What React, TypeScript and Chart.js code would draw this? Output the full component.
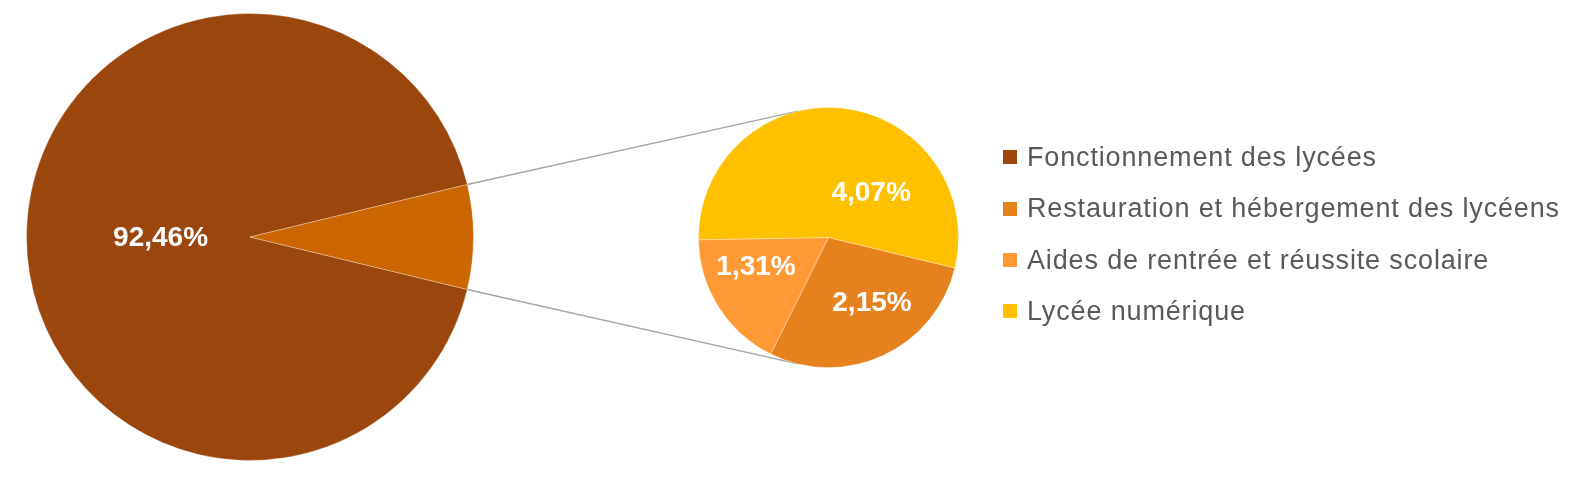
import React, { useEffect, useRef } from "react";
import { Chart, registerables } from "chart.js";

Chart.register(...registerables);

// ---- data ----
const mainLabels = ["Fonctionnement des lycées", "Autres dépenses"];
const mainValues = [92.46, 7.54];
const mainColors = ["#9B460D", "#CC6600"];

const detailLabels = [
  "Restauration et hébergement des lycéens",
  "Aides de rentrée et réussite scolaire",
  "Lycée numérique",
];
const detailValues = [2.15, 1.31, 4.07];
const detailColors = ["#E6821E", "#FF9933", "#FFC000"];

const legendLabels = [mainLabels[0], ...detailLabels];
const legendColors = [mainColors[0], ...detailColors];

// label placement inside slices: [fraction along the arc, fraction of radius]
const mainLabelPlace: (number[] | null)[] = [[0.5, 0.4], null];
const detailLabelPlace: (number[] | null)[] = [
  [0.414, 0.6],
  [0.67, 0.6],
  [0.689, 0.48],
];

const W = 1571;
const H = 487;

const fmt = (v: number) => v.toFixed(2).replace(".", ",") + "%";

const makeLabelPlugin = (places: (number[] | null)[]) => ({
  id: "sliceLabels",
  afterDatasetsDraw(chart: any) {
    const ctx = chart.ctx;
    const meta = chart.getDatasetMeta(0);
    const vals = chart.data.datasets[0].data as number[];
    ctx.save();
    ctx.font = 'bold 28px "Liberation Sans", Arial, sans-serif';
    ctx.fillStyle = "#ffffff";
    ctx.textAlign = "center";
    ctx.textBaseline = "middle";
    meta.data.forEach((arc: any, i: number) => {
      const p = places[i];
      if (!p) return;
      const { x, y, startAngle, endAngle, outerRadius } = arc.getProps(
        ["x", "y", "startAngle", "endAngle", "outerRadius"],
        true
      );
      const a = startAngle + p[0] * (endAngle - startAngle);
      const r = outerRadius * p[1];
      ctx.fillText(fmt(vals[i]), x + r * Math.cos(a), y + r * Math.sin(a) + 1);
    });
    ctx.restore();
  },
});

export default function App() {
  const mainRef = useRef<HTMLCanvasElement | null>(null);
  const detailRef = useRef<HTMLCanvasElement | null>(null);

  useEffect(() => {
    const total = mainValues.reduce((a, b) => a + b, 0);
    const half = (mainValues[1] / total) * 180;
    const rotation = 90 + half;

    const mainChart = new Chart(mainRef.current as HTMLCanvasElement, {
      type: "pie",
      data: {
        labels: mainLabels,
        datasets: [
          {
            data: mainValues,
            backgroundColor: mainColors,
            borderColor: "rgba(255,255,255,0.3)",
            borderWidth: 1,
          },
        ],
      },
      options: {
        responsive: false,
        animation: false,
        devicePixelRatio: 1,
        rotation,
        layout: { padding: { left: 26, top: 13, right: W - 26 - 448, bottom: H - 13 - 448 } },
        plugins: { legend: { display: false }, tooltip: { enabled: false } },
      },
      plugins: [makeLabelPlugin(mainLabelPlace)],
    });

    const connectorPlugin = {
      id: "connectors",
      beforeDatasetsDraw(chart: any) {
        const big = mainChart.getDatasetMeta(0).data[1] as any;
        const bp = big.getProps(["x", "y", "startAngle", "endAngle", "outerRadius"], true);
        const small = chart.getDatasetMeta(0).data[0] as any;
        const sp = small.getProps(["x", "y", "outerRadius"], true);
        const h = (bp.endAngle - bp.startAngle) / 2;
        const ctx = chart.ctx;
        ctx.save();
        ctx.strokeStyle = "#A6A6A6";
        ctx.lineWidth = 1.5;
        ctx.beginPath();
        ctx.moveTo(bp.x + bp.outerRadius * Math.cos(bp.startAngle), bp.y + bp.outerRadius * Math.sin(bp.startAngle));
        ctx.lineTo(sp.x - sp.outerRadius * Math.sin(h), sp.y - sp.outerRadius * Math.cos(h));
        ctx.moveTo(bp.x + bp.outerRadius * Math.cos(bp.endAngle), bp.y + bp.outerRadius * Math.sin(bp.endAngle));
        ctx.lineTo(sp.x - sp.outerRadius * Math.sin(h), sp.y + sp.outerRadius * Math.cos(h));
        ctx.stroke();
        ctx.restore();
      },
    };

    const detailChart = new Chart(detailRef.current as HTMLCanvasElement, {
      type: "pie",
      data: {
        labels: detailLabels,
        datasets: [
          {
            data: detailValues,
            backgroundColor: detailColors,
            borderColor: "rgba(255,255,255,0.3)",
            borderWidth: 1,
          },
        ],
      },
      options: {
        responsive: false,
        animation: false,
        devicePixelRatio: 1,
        rotation,
        layout: { padding: { left: 698, top: 107, right: W - 698 - 261, bottom: H - 107 - 261 } },
        plugins: { legend: { display: false }, tooltip: { enabled: false } },
      },
      plugins: [connectorPlugin, makeLabelPlugin(detailLabelPlace)],
    });

    return () => {
      detailChart.destroy();
      mainChart.destroy();
    };
  }, []);

  const rowH = 51.33;
  return (
    <div style={{ position: "absolute", left: 0, top: 0, width: W, height: H, background: "#fff", overflow: "hidden" }}>
      <canvas ref={mainRef} width={W} height={H} style={{ position: "absolute", left: 0, top: 0, width: W, height: H }} />
      <canvas ref={detailRef} width={W} height={H} style={{ position: "absolute", left: 0, top: 0, width: W, height: H }} />
      <div style={{ position: "absolute", left: 1003, top: 157.5 - rowH / 2, width: 568 }}>
        {legendLabels.map((l, i) => (
          <div key={l} style={{ display: "flex", alignItems: "center", height: rowH }}>
            <span style={{ display: "inline-block", width: 14, height: 14, background: legendColors[i], marginRight: 10, flex: "none" }} />
            <span
              style={{
                fontFamily: '"Liberation Sans", Arial, sans-serif',
                fontSize: 27,
                lineHeight: 1,
                letterSpacing: "0.85px",
                color: "#595959",
                whiteSpace: "nowrap",
              }}
            >
              {l}
            </span>
          </div>
        ))}
      </div>
    </div>
  );
}
